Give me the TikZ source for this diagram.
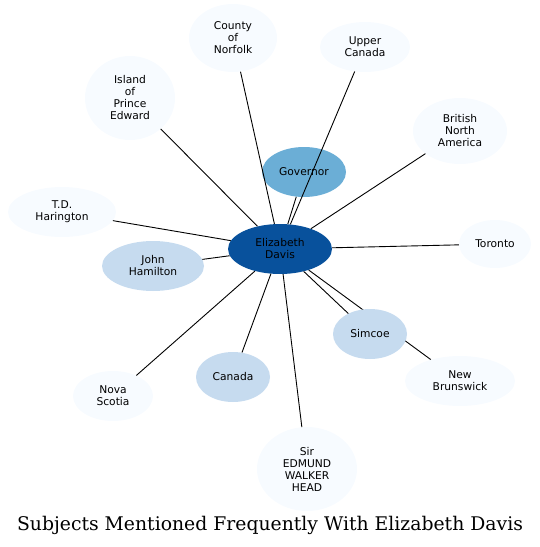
\documentclass[tikz,border=0pt]{standalone}
\usepackage{fontspec}
\setmainfont{DejaVu Sans}
\newfontfamily\titlefont{DejaVu Serif}
\usetikzlibrary{shapes.geometric,backgrounds}
\definecolor{cDark}{HTML}{08519C}
\definecolor{cMid}{HTML}{6BAED6}
\definecolor{cLight}{HTML}{C6DBEF}
\definecolor{cPale}{HTML}{F7FBFF}
\tikzset{
  ent/.style={ellipse, draw=none, inner sep=0pt, align=center,
    font=\fontsize{10.7}{12}\selectfont, text=black},
  edge/.style={draw=black, line width=0.9pt},
}
\begin{document}
\begin{tikzpicture}[x=1pt,y=-1pt]
\useasboundingbox (0,0) rectangle (540,547);
\node[ent, fill=cDark, minimum width=104pt, minimum height=50pt] (ed) at (280,249) {Elizabeth\\Davis};
\node[ent, fill=cMid, minimum width=84pt, minimum height=50pt] (gov) at (304,172) {Governor};
\node[ent, fill=cPale, minimum width=88pt, minimum height=68pt] (cn) at (233,38) {County\\of\\Norfolk};
\node[ent, fill=cPale, minimum width=90pt, minimum height=50pt] (uc) at (365,47) {Upper\\Canada};
\node[ent, fill=cPale, minimum width=90pt, minimum height=84pt] (ipe) at (130,98) {Island\\of\\Prince\\Edward};
\node[ent, fill=cPale, minimum width=94pt, minimum height=66pt] (bna) at (460,131) {British\\North\\America};
\node[ent, fill=cPale, minimum width=108pt, minimum height=50pt] (tdh) at (62,212) {T.D.\\Harington};
\node[ent, fill=cLight, minimum width=102pt, minimum height=50pt] (jh) at (153,266) {John\\Hamilton};
\node[ent, fill=cPale, minimum width=72pt, minimum height=48pt] (tor) at (495,244) {Toronto};
\node[ent, fill=cLight, minimum width=74pt, minimum height=50pt] (sim) at (370,334) {Simcoe};
\node[ent, fill=cPale, minimum width=110pt, minimum height=50pt] (nb) at (460,381) {New\\Brunswick};
\node[ent, fill=cLight, minimum width=74pt, minimum height=50pt] (can) at (233,377) {Canada};
\node[ent, fill=cPale, minimum width=80pt, minimum height=50pt] (ns) at (113,396) {Nova\\Scotia};
\node[ent, fill=cPale, minimum width=100pt, minimum height=84pt] (seh) at (307,469) {Sir\\EDMUND\\WALKER\\HEAD};
\node[font=\titlefont\fontsize{18.8}{22}\selectfont] (title) at (270,525) {Subjects Mentioned Frequently With Elizabeth Davis};
\begin{scope}[on background layer]
\draw[edge] (ed) -- (nb);
\end{scope}
\draw[edge] (ed) -- (gov);
\draw[edge] (ed) -- (cn);
\draw[edge] (ed) -- (uc);
\draw[edge] (ed) -- (ipe);
\draw[edge] (ed) -- (bna);
\draw[edge] (ed) -- (tdh);
\draw[edge] (ed) -- (jh);
\draw[edge] (ed) -- (tor);
\draw[edge] (ed) -- (sim);
\draw[edge] (ed) -- (can);
\draw[edge] (ed) -- (ns);
\draw[edge] (ed) -- (seh);
\end{tikzpicture}
\end{document}
